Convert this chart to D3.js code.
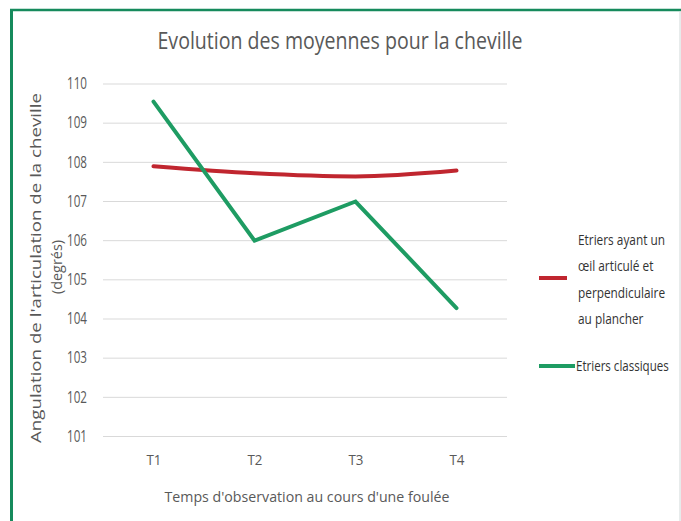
<!DOCTYPE html>
<html>
  <head>
    <meta charset="utf-8">
    <script src="https://d3js.org/d3.v7.min.js"></script>
    <style>
      body { margin: 0; background: #fff; }
      svg text { font-family: "Open Sans", sans-serif; fill: #595959; }
    </style>
  </head>
  <body>
    <div id="chart"></div>
    <script>
      // data
      var times = ["T1", "T2", "T3", "T4"];
      var articule = [107.9, 107.72, 107.64, 107.79];
      var classiques = [109.55, 106.0, 107.0, 104.28];
      var yTicks = [101, 102, 103, 104, 105, 106, 107, 108, 109, 110];
      var legendArticule = ["Etriers ayant un", "\u0153il articulé et", "perpendiculaire", "au plancher"];
      var legendClassiques = "Etriers classiques";

      var width = 681, height = 521;

      var svg = d3.select("#chart").append("svg")
        .attr("width", width)
        .attr("height", height);

      // condensed look of the original text: squeeze glyphs to a measured width
      function squeeze(sel, w) {
        sel.attr("textLength", w).attr("lengthAdjust", "spacingAndGlyphs");
      }

      // frame
      svg.append("line").attr("x1", 10).attr("x2", 681).attr("y1", 10).attr("y2", 10)
        .attr("stroke", "#168a5c").attr("stroke-width", 2.5);
      svg.append("line").attr("x1", 11.5).attr("x2", 11.5).attr("y1", 9).attr("y2", 521)
        .attr("stroke", "#168a5c").attr("stroke-width", 3);
      svg.append("line").attr("x1", 680).attr("x2", 680).attr("y1", 11).attr("y2", 521)
        .attr("stroke", "#d0d8d8").attr("stroke-width", 1);

      var x = d3.scalePoint().domain(times).range([103, 507]).padding(0.5);
      var y = d3.scaleLinear().domain([101, 110]).range([436.5, 84]);

      // gridlines
      svg.append("g").selectAll("line")
        .data(yTicks)
        .enter().append("line")
        .attr("x1", 103).attr("x2", 507)
        .attr("y1", function(d) { return y(d); })
        .attr("y2", function(d) { return y(d); })
        .attr("stroke", "#d9d9d9").attr("stroke-width", 1);

      // y labels
      var yAxis = svg.append("g").attr("transform", "translate(87,0)")
        .call(d3.axisLeft(y).tickValues(yTicks).tickSize(0).tickPadding(0));
      yAxis.select(".domain").remove();
      yAxis.selectAll("text")
        .style("font-size", "16px").attr("fill", "#595959").attr("dy", "0.3em")
        .call(squeeze, 20);

      // x labels
      var xAxis = svg.append("g").attr("transform", "translate(0,454)")
        .call(d3.axisBottom(x).tickSize(0).tickPadding(0));
      xAxis.select(".domain").remove();
      xAxis.selectAll("text").style("font-size", "15px").attr("fill", "#595959")
        .call(squeeze, 15);

      var line = d3.line()
        .x(function(d, i) { return x(times[i]); })
        .y(function(d) { return y(d); });

      var smooth = d3.line()
        .x(function(d, i) { return x(times[i]); })
        .y(function(d) { return y(d); })
        .curve(d3.curveMonotoneX);

      svg.append("path").datum(articule)
        .attr("d", smooth)
        .attr("fill", "none").attr("stroke", "#c0262f").attr("stroke-width", 4)
        .attr("stroke-linecap", "round");

      svg.append("path").datum(classiques)
        .attr("d", line)
        .attr("fill", "none").attr("stroke", "#1e9c63").attr("stroke-width", 4)
        .attr("stroke-linecap", "round");

      // title
      svg.append("text")
        .attr("x", 340).attr("y", 49)
        .attr("text-anchor", "middle")
        .style("font-size", "23px")
        .text("Evolution des moyennes pour la cheville")
        .call(squeeze, 365);

      // axis titles
      svg.append("text")
        .attr("x", 307).attr("y", 502)
        .attr("text-anchor", "middle")
        .style("font-size", "15px")
        .text("Temps d'observation au cours d'une foulée")
        .call(squeeze, 285);

      svg.append("text")
        .attr("transform", "translate(41,268) rotate(-90)")
        .attr("text-anchor", "middle")
        .style("font-size", "14px")
        .text("Angulation de l'articulation de la cheville")
        .call(squeeze, 350);
      svg.append("text")
        .attr("transform", "translate(62,267) rotate(-90)")
        .attr("text-anchor", "middle")
        .style("font-size", "14px")
        .text("(degrés)")
        .call(squeeze, 54);

      // legend (text condensed with a horizontal scale)
      svg.append("line").attr("x1", 539).attr("x2", 567).attr("y1", 278).attr("y2", 278)
        .attr("stroke", "#c0262f").attr("stroke-width", 4);
      svg.append("g").selectAll("g")
        .data(legendArticule)
        .enter().append("g")
        .attr("transform", function(d, i) { return "translate(578," + (245 + i * 26.3) + ") scale(0.79,1)"; })
        .append("text")
        .style("font-size", "15px")
        .style("fill", "#333")
        .text(function(d) { return d; });

      svg.append("line").attr("x1", 539).attr("x2", 575).attr("y1", 366).attr("y2", 366)
        .attr("stroke", "#1e9c63").attr("stroke-width", 4);
      svg.append("g")
        .attr("transform", "translate(576,371) scale(0.77,1)")
        .append("text")
        .style("font-size", "15px")
        .style("fill", "#333")
        .text(legendClassiques);
    </script>
  </body>
</html>
